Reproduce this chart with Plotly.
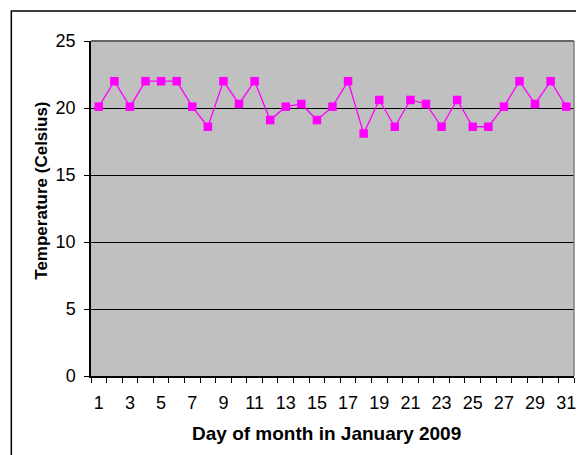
import plotly.graph_objects as go

days = list(range(1, 32))
temps = [20.1, 22.0, 20.1, 22.0, 22.0, 22.0, 20.1, 18.6, 22.0, 20.3,
         22.0, 19.1, 20.1, 20.3, 19.1, 20.1, 22.0, 18.1, 20.6, 18.6,
         20.6, 20.3, 18.6, 20.6, 18.6, 18.6, 20.1, 22.0, 20.3, 22.0, 20.1]
x_tick_vals = list(range(1, 32, 2))
y_tick_vals = [0, 5, 10, 15, 20, 25]
x_title = "Day of month in January 2009"
y_title = "Temperature (Celsius)"

# page has an 8px body margin; compensate so the plot lands at page coords
OFF = 8
W, H = 584 - OFF, 455 - OFF
L, R, T, B = 91 - OFF, 8, 41 - OFF, 455 - 376
pw = W - L - R
ph = H - T - B


def px(xp):
    return (xp - OFF - L) / pw


def py(yp):
    return (T + ph - (yp - OFF)) / ph


fig = go.Figure()
fig.add_trace(go.Scatter(
    x=days, y=temps, mode="lines+markers",
    line=dict(color="#FF00FF", width=1.3),
    marker=dict(symbol="square", size=8.5, color="#FF00FF"),
    showlegend=False, cliponaxis=False,
))

font = "Liberation Sans, Arial, sans-serif"

fig.update_layout(
    width=W, height=H,
    margin=dict(l=L, r=R, t=T, b=B),
    paper_bgcolor="white",
    plot_bgcolor="#C0C0C0",
    font=dict(family=font, color="black"),
    xaxis=dict(
        range=[0.5, 31.5],
        tickmode="array", tickvals=x_tick_vals,
        ticktext=[str(v) for v in x_tick_vals],
        ticks="", showgrid=False, zeroline=False,
        showline=True, linecolor="black", linewidth=1.5,
        tickfont=dict(size=18, family=font),
        ticklabelstandoff=10,
        minor=dict(tickmode="array", tickvals=[d + 0.5 for d in range(0, 32)],
                   ticks="outside", ticklen=5, tickcolor="black", tickwidth=1,
                   showgrid=False),
    ),
    yaxis=dict(
        range=[0, 25],
        tickmode="array", tickvals=y_tick_vals,
        ticks="outside", ticklen=5, tickcolor="black", tickwidth=1,
        showgrid=True, gridcolor="black", gridwidth=1.2,
        zeroline=False,
        showline=True, linecolor="black", linewidth=1.5,
        tickfont=dict(size=18, family=font),
        ticklabelstandoff=5,
    ),
    annotations=[
        dict(text="<b>" + x_title + "</b>", xref="paper", yref="paper",
             x=px(327.5), y=py(433), xanchor="center", yanchor="middle",
             showarrow=False, font=dict(size=19, family=font)),
        dict(text="<b>" + y_title + "</b>", xref="paper", yref="paper",
             x=px(40.5), y=py(191), xanchor="center", yanchor="middle",
             textangle=-90, showarrow=False, font=dict(size=17, family=font)),
    ],
    shapes=[
        # outer chart border (top and left visible)
        dict(type="rect", xref="paper", yref="paper",
             x0=px(11), x1=px(600), y0=py(470), y1=py(11),
             line=dict(color="black", width=1.5), fillcolor="rgba(0,0,0,0)", layer="above"),
        # plot area top border
        dict(type="line", xref="paper", yref="paper", x0=0, x1=1, y0=1, y1=1,
             line=dict(color="#666666", width=2), layer="above"),
        # plot area right border
        dict(type="line", xref="paper", yref="paper", x0=1, x1=1, y0=0, y1=1,
             line=dict(color="#808080", width=1.5), layer="above"),
    ],
)

fig.write_html("out.html")
